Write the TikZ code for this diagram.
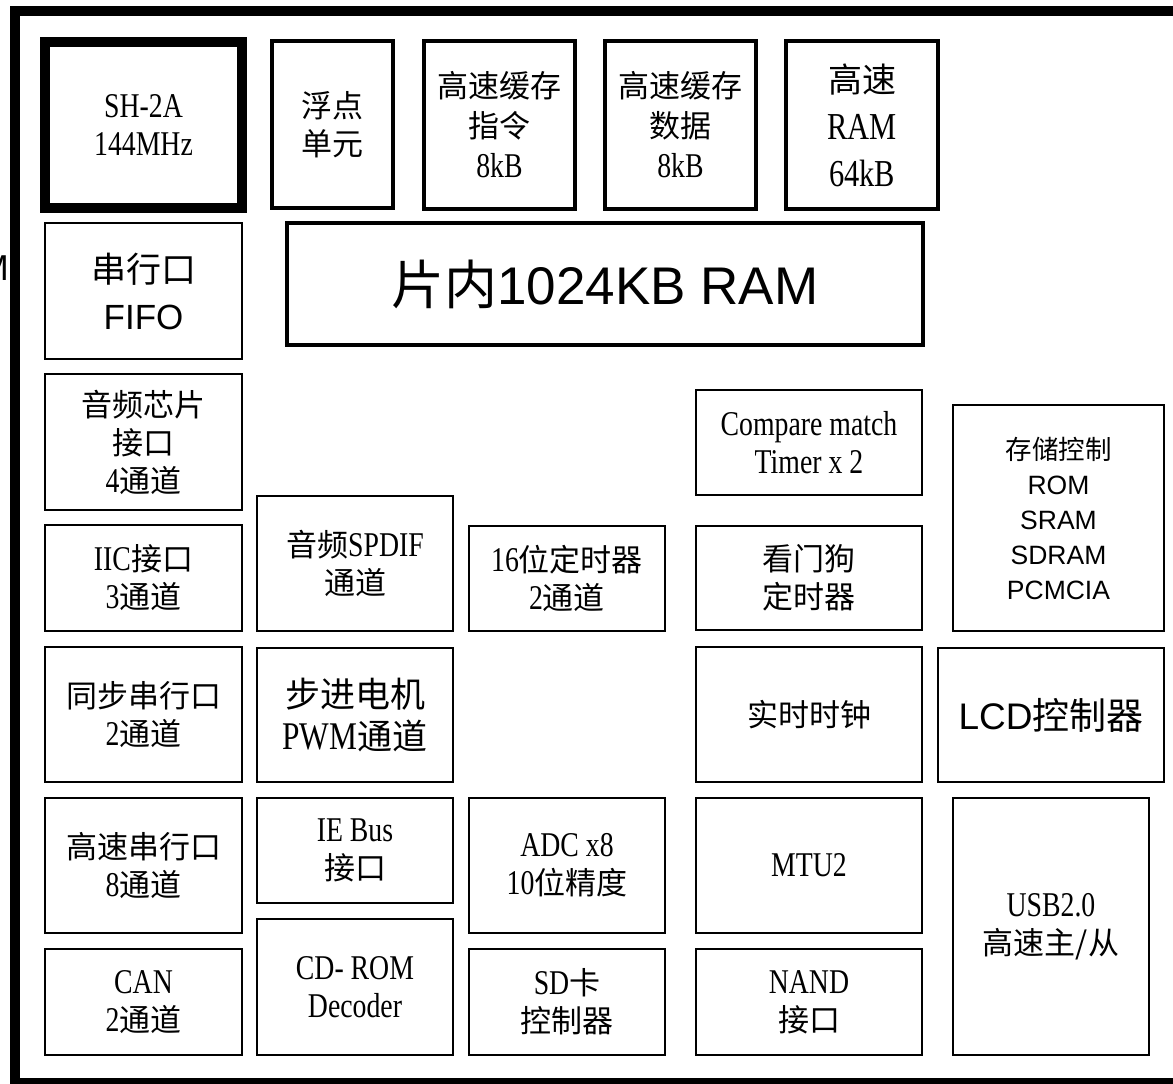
\documentclass[tikz,border=0pt]{standalone}
\usepackage{fontspec}
\setmainfont{Liberation Serif}[FakeStretch=0.8, Scale=1.12]
\newfontfamily\cjk{Noto Sans CJK SC}
\newfontfamily\arial{Liberation Sans}
\newcommand{\zh}[1]{{\cjk #1}}
\usetikzlibrary{positioning}
\tikzset{
  blk/.style  = {draw, line width=2.7pt, align=center, inner sep=0pt,
                 font=\fontsize{31}{38}\selectfont},
  blkm/.style = {blk, line width=4.5pt},
  core/.style = {blk, line width=10.5pt},
  chip/.style = {draw, line width=10pt},
  big/.style  = {font=\fontsize{34}{47}\selectfont}
}
\begin{document}
\begin{tikzpicture}[x=1pt,y=-1pt]
  \useasboundingbox (0,0) rectangle (1173,1084);
  \draw[chip] (15,11) rectangle (1190,1083);
  \node[inner sep=0pt, anchor=east, font=\arial\fontsize{36}{40}\selectfont] (mcut) at (9,268) {M};

  % top row
  \node[core, minimum width=197pt, minimum height=166pt] (cpu) at (143.5,125) {SH-2A\\144MHz};
  \node[blkm, minimum width=121pt, minimum height=167pt] (fpu) at (332.5,124.5) {\zh{浮点}\\\zh{单元}};
  \node[blkm, minimum width=151pt, minimum height=168pt, font=\fontsize{31}{40}\selectfont] (icache) at (499.5,125) {\zh{高速缓存}\\\zh{指令}\\8kB};
  \node[blkm, minimum width=151pt, minimum height=168pt, font=\fontsize{31}{40}\selectfont] (dcache) at (680.5,125) {\zh{高速缓存}\\\zh{数据}\\8kB};
  \node[blkm, big, minimum width=152pt, minimum height=168pt] (hram) at (862,125) {\zh{高速}\\RAM\\64kB};
  \node[blk, minimum width=197pt, minimum height=136pt, font=\fontsize{35}{47}\selectfont] (fifo) at (143.5,291) {\zh{串行口}\\{\arial FIFO}};
  \node[blkm, minimum width=636pt, minimum height=122pt, font=\fontsize{53}{60}\selectfont] (ram) at (605,284) {\zh{片内}{\arial 1024KB RAM}};

  % left columns
  \node[blk, minimum width=197pt, minimum height=136pt] (audio) at (143.5,442) {\zh{音频芯片}\\\zh{接口}\\4\zh{通道}};
  \node[blk, minimum width=197pt, minimum height=106pt] (iic) at (143.5,578) {IIC\zh{接口}\\3\zh{通道}};
  \node[blk, minimum width=197pt, minimum height=135pt] (sync) at (143.5,714.5) {\zh{同步串行口}\\2\zh{通道}};
  \node[blk, minimum width=197pt, minimum height=135pt] (hss) at (143.5,865.5) {\zh{高速串行口}\\8\zh{通道}};
  \node[blk, minimum width=197pt, minimum height=106pt] (can) at (143.5,1002) {CAN\\2\zh{通道}};
  \node[blk, minimum width=196pt, minimum height=135pt] (spdif) at (355,563.5) {\zh{音频}SPDIF\\\zh{通道}};
  \node[blk, minimum width=196pt, minimum height=134pt, font=\fontsize{35}{42}\selectfont] (stepper) at (355,715) {\zh{步进电机}\\PWM\zh{通道}};
  \node[blk, minimum width=196pt, minimum height=105pt] (iebus) at (355,850.5) {IE Bus\\\zh{接口}};
  \node[blk, minimum width=196pt, minimum height=136pt] (cdrom) at (355,987) {CD- ROM\\Decoder};

  % middle columns
  \node[blk, minimum width=196pt, minimum height=105pt] (tmr16) at (567,578.5) {16\zh{位定时器}\\2\zh{通道}};
  \node[blk, minimum width=196pt, minimum height=135pt] (adc) at (567,865.5) {ADC x8\\10\zh{位精度}};
  \node[blk, minimum width=196pt, minimum height=106pt] (sdcard) at (567,1002) {SD\zh{卡}\\\zh{控制器}};
  \node[blk, minimum width=226pt, minimum height=105pt] (cmt) at (809,442.5) {Compare match\\Timer x 2};
  \node[blk, minimum width=226pt, minimum height=104pt] (wdt) at (809,578) {\zh{看门狗}\\\zh{定时器}};
  \node[blk, minimum width=226pt, minimum height=135pt] (rtc) at (809,714.5) {\zh{实时时钟}};
  \node[blk, minimum width=226pt, minimum height=135pt] (mtu) at (809,865.5) {MTU2};
  \node[blk, minimum width=226pt, minimum height=106pt] (nand) at (809,1002) {NAND\\\zh{接口}};

  % right column
  \node[blk, minimum width=211pt, minimum height=226pt, font=\arial\fontsize{26.5}{35}\selectfont] (memc) at (1058.5,518) {\zh{存储控制}\\ROM\\SRAM\\SDRAM\\PCMCIA};
  \node[blk, minimum width=226pt, minimum height=134pt, font=\arial\fontsize{37}{42}\selectfont] (lcd) at (1051,715) {LCD\zh{控制器}};
  \node[blk, minimum width=196pt, minimum height=257pt] (usb) at (1051,926.5) {USB2.0\\\zh{高速主/从}};
\end{tikzpicture}
\end{document}
